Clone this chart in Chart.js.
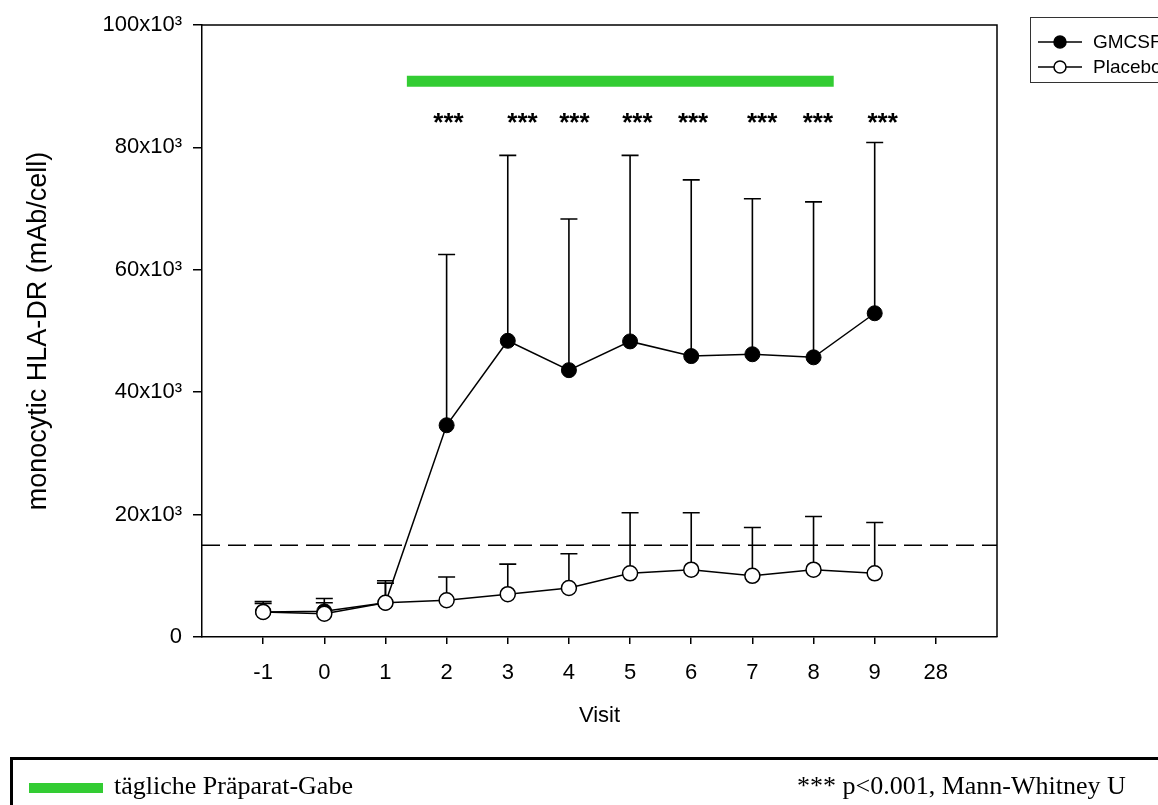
<!DOCTYPE html>
<html>
<head>
<meta charset="utf-8">
<script src="https://cdn.jsdelivr.net/npm/chart.js@4.4.0/dist/chart.umd.min.js"></script>
<style>
  body { margin: 0; background: #fff; overflow: hidden; }
  #wrap { position: relative; width: 1158px; height: 805px; }
  #note {
    position: absolute; left: 10px; top: 757px; width: 1160px; height: 60px;
    border: 3px solid #000; box-sizing: border-box;
    font-family: "Liberation Serif", "Times New Roman", serif; font-size: 26px; color: #000;
  }
  #note .swatch { position: absolute; left: 16px; top: 23px; width: 74px; height: 10px; background: #33cc33; }
  #note .left { position: absolute; left: 101px; top: 11px; }
  #note .right { position: absolute; left: 784px; top: 11px; }
</style>
</head>
<body>
<div id="wrap">
  <canvas id="myChart" width="1158" height="805"></canvas>
  <div id="note">
    <div class="swatch"></div>
    <span class="left">tägliche Präparat-Gabe</span>
    <span class="right">*** p&lt;0.001, Mann-Whitney U</span>
  </div>
</div>
<script>
// Visits on the x axis (28 has no data)
const visits = ['-1', '0', '1', '2', '3', '4', '5', '6', '7', '8', '9', '28'];

// mean and mean+SD
const gmcsfMean = [4100, 4200, 5600, 34600, 48400, 43600, 48300, 45900, 46200, 45700, 52900];
const gmcsfUpper = [5800, 6300, 9200, 62500, 78700, 68300, 78700, 74700, 71600, 71100, 80800];
const placeboMean = [4100, 3800, 5600, 6000, 7000, 8000, 10400, 11000, 10000, 11000, 10400];
const placeboUpper = [5500, 5600, 8800, 9800, 11900, 13600, 20300, 20300, 17900, 19700, 18700];

const cutoff = 15000; // dashed reference line
const treatmentStart = 2.35; // green bar, in visit-index units
const treatmentEnd = 9.33;
const treatmentLevel = 90800;
const starX = [3.03, 4.24, 5.09, 6.12, 7.03, 8.16, 9.07, 10.13];
const starLevel = 82700;

const font = '"Liberation Sans", Arial, sans-serif';

const errorBars = {
    id: 'errorBars',
    beforeDatasetsDraw(chart) {
        const { ctx, scales: { x, y } } = chart;
        ctx.save();
        ctx.strokeStyle = '#000';
        ctx.lineWidth = 1.6;
        [[gmcsfMean, gmcsfUpper], [placeboMean, placeboUpper]].forEach(([mean, upper]) => {
            mean.forEach((v, i) => {
                const px = x.getPixelForValue(i);
                const top = y.getPixelForValue(upper[i]);
                ctx.beginPath();
                ctx.moveTo(px, y.getPixelForValue(v));
                ctx.lineTo(px, top);
                ctx.moveTo(px - 8.5, top);
                ctx.lineTo(px + 8.5, top);
                ctx.stroke();
            });
        });
        ctx.restore();
    }
};

const extras = {
    id: 'extras',
    afterDraw(chart) {
        const { ctx, chartArea: a, scales: { x, y } } = chart;
        ctx.save();
        // frame top + right
        ctx.strokeStyle = '#000';
        ctx.lineWidth = 1.5;
        ctx.beginPath();
        ctx.moveTo(a.left, a.top);
        ctx.lineTo(a.right, a.top);
        ctx.lineTo(a.right, a.bottom);
        ctx.stroke();

        // significance stars
        ctx.fillStyle = '#000';
        ctx.font = 'bold 26px ' + font;
        ctx.textAlign = 'center';
        ctx.textBaseline = 'alphabetic';
        starX.forEach(v => ctx.fillText('***', x.getPixelForValue(v), y.getPixelForValue(starLevel)));

        // legend box
        ctx.strokeStyle = '#333';
        ctx.lineWidth = 1;
        ctx.strokeRect(1030.5, 17.5, 200, 65);
        const rows = [['GMCSF', '#000'], ['Placebo', '#fff']];
        ctx.font = '19px ' + font;
        ctx.textAlign = 'left';
        ctx.textBaseline = 'middle';
        rows.forEach(([label, fill], i) => {
            const cy = 42 + i * 25;
            ctx.strokeStyle = '#000';
            ctx.lineWidth = 1.5;
            ctx.beginPath();
            ctx.moveTo(1038, cy);
            ctx.lineTo(1082, cy);
            ctx.stroke();
            ctx.beginPath();
            ctx.arc(1060, cy, 6, 0, Math.PI * 2);
            ctx.fillStyle = fill;
            ctx.fill();
            ctx.stroke();
            ctx.fillStyle = '#000';
            ctx.fillText(label, 1093, cy + 1);
        });
        ctx.restore();
    }
};

const ctx = document.getElementById('myChart').getContext('2d');
new Chart(ctx, {
    type: 'line',
    data: {
        datasets: [
            {
                label: 'Placebo',
                data: placeboMean.map((v, i) => ({ x: i, y: v })),
                borderColor: '#000',
                borderWidth: 1.5,
                pointRadius: 7.5,
                pointBackgroundColor: '#fff',
                pointBorderColor: '#000',
                pointBorderWidth: 1.5,
                order: 0
            },
            {
                label: 'GMCSF',
                data: gmcsfMean.map((v, i) => ({ x: i, y: v })),
                borderColor: '#000',
                borderWidth: 1.5,
                pointRadius: 7.5,
                pointBackgroundColor: '#000',
                pointBorderColor: '#000',
                pointBorderWidth: 1,
                order: 1
            },
            {
                label: 'cutoff',
                data: [{ x: -1, y: cutoff }, { x: 12, y: cutoff }],
                borderColor: '#000',
                borderWidth: 1.5,
                borderDash: [18, 8],
                pointRadius: 0,
                order: 2
            },
            {
                label: 'treatment',
                data: [{ x: treatmentStart, y: treatmentLevel }, { x: treatmentEnd, y: treatmentLevel }],
                borderColor: '#33cc33',
                borderWidth: 11,
                borderCapStyle: 'butt',
                pointRadius: 0,
                order: 3
            }
        ]
    },
    options: {
        responsive: false,
        animation: false,
        layout: { padding: { left: 0, top: 25, right: 161, bottom: 58 } },
        plugins: { legend: { display: false }, tooltip: { enabled: false } },
        scales: {
            x: {
                type: 'linear',
                min: -1,
                max: 12,
                afterBuildTicks: scale => { scale.ticks = visits.map((_, i) => ({ value: i })); },
                afterFit: scale => { scale.height = 110; },
                ticks: {
                    callback: v => visits[v],
                    color: '#000',
                    font: { family: font, size: 22 },
                    padding: 16,
                    maxRotation: 0,
                    autoSkip: false
                },
                grid: { drawOnChartArea: false, drawTicks: true, tickLength: 7, color: '#000', lineWidth: 1.5 },
                border: { display: true, color: '#000', width: 1.5 },
                title: {
                    display: true,
                    text: 'Visit',
                    color: '#000',
                    font: { family: font, size: 22 },
                    padding: { top: 0, bottom: 18 }
                }
            },
            y: {
                min: 0,
                max: 100000,
                afterFit: scale => { scale.width = 202; },
                ticks: {
                    stepSize: 20000,
                    callback: v => v === 0 ? '0' : (v / 1000) + 'x10³',
                    color: '#000',
                    font: { family: font, size: 22 },
                    padding: 11
                },
                grid: { drawOnChartArea: false, drawTicks: true, tickLength: 9, color: '#000', lineWidth: 1.5 },
                border: { display: true, color: '#000', width: 1.5 },
                title: {
                    display: true,
                    text: 'monocytic HLA-DR (mAb/cell)',
                    color: '#000',
                    font: { family: font, size: 27 },
                    padding: { top: 22, bottom: 0 }
                }
            }
        }
    },
    plugins: [errorBars, extras]
});
</script>
</body>
</html>
